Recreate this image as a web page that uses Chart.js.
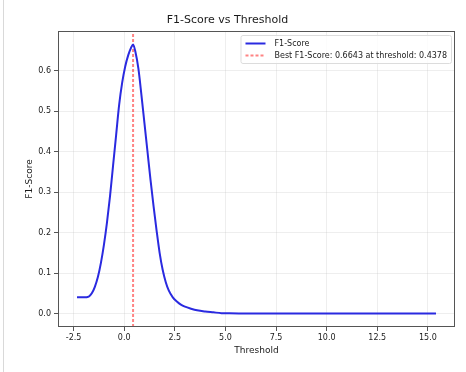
<!DOCTYPE html>
<html><head><meta charset="utf-8">
<script src="https://cdn.jsdelivr.net/npm/chart.js@4"></script>
<style>
html,body{margin:0;padding:0;background:#fff;}
#wrap{position:relative;width:466px;height:372px;overflow:hidden;}
#edge{position:absolute;left:3px;top:0;width:1px;height:372px;background:#d9d9d9;}
canvas{position:absolute;left:0;top:0;}
</style></head><body>
<div id="wrap"><canvas id="c" width="466" height="372"></canvas><div id="edge"></div></div>
<script>
const thresholds = [-2.33, -2.0, -1.75, -1.6, -1.45, -1.3, -1.15, -1.0, -0.85, -0.7, -0.55, -0.4, -0.25, -0.1, 0.05, 0.2, 0.32, 0.4378, 0.55, 0.7, 0.85, 1.0, 1.15, 1.3, 1.45, 1.6, 1.75, 1.9, 2.05, 2.2, 2.4, 2.6, 2.8, 3.0, 3.3, 3.6, 4.0, 4.4, 4.8, 5.2, 6.0, 8.0, 10.0, 12.0, 14.0, 15.4];
const f1Scores = [0.040, 0.040, 0.042, 0.050, 0.066, 0.090, 0.125, 0.170, 0.225, 0.290, 0.365, 0.440, 0.515, 0.570, 0.610, 0.638, 0.654, 0.6643, 0.647, 0.605, 0.540, 0.470, 0.400, 0.330, 0.265, 0.205, 0.150, 0.108, 0.078, 0.057, 0.040, 0.030, 0.022, 0.017, 0.012, 0.008, 0.005, 0.003, 0.001, 0.0005, 0.0, 0.0, 0.0, 0.0, 0.0, 0.0];
const bestThreshold = 0.4378;
const bestF1 = 0.6643;
const xTickValues = [-2.5, 0.0, 2.5, 5.0, 7.5, 10.0, 12.5, 15.0];
const yTickValues = [0.0, 0.1, 0.2, 0.3, 0.4, 0.5, 0.6];
const xLimits = [-3.27, 16.34];
const yLimits = [-0.0332, 0.6975];

const FONT = 'DejaVu Sans';
const TXT = '#1a1a1a';

const framePlugin = {
  id: 'frame',
  afterDatasetsDraw(chart) {
    const {ctx, chartArea: a} = chart;
    ctx.save();
    ctx.strokeStyle = '#555';
    ctx.lineWidth = 1;
    ctx.strokeRect(a.left + 0.5, a.top + 0.5, a.right - a.left - 1, a.bottom - a.top - 1);
    ctx.restore();
  }
};

const legendPlugin = {
  id: 'mplLegend',
  afterDraw(chart) {
    const {ctx, chartArea: a} = chart;
    const items = chart.data.datasets;
    ctx.save();
    ctx.font = '8px "' + FONT + '"';
    const textW = Math.max(...items.map(d => ctx.measureText(d.label).width));
    const padL = 5, handle = 20, gap = 9, padR = 4, rowH = 12;
    const w = padL + handle + gap + textW + padR;
    const h = 28;
    const right = a.right - 4, top = a.top + 4;
    const left = right - w;
    ctx.fillStyle = 'rgba(255,255,255,0.85)';
    ctx.strokeStyle = '#dcdcdc';
    ctx.lineWidth = 1;
    ctx.beginPath();
    ctx.roundRect(left + 0.5, top + 0.5, w, h, 2);
    ctx.fill();
    ctx.stroke();
    items.forEach((d, i) => {
      const y = top + 8.5 + i * rowH;
      ctx.beginPath();
      ctx.strokeStyle = d.borderColor;
      ctx.lineWidth = d.borderWidth;
      ctx.setLineDash(d.borderDash || []);
      ctx.moveTo(left + padL, y);
      ctx.lineTo(left + padL + handle, y);
      ctx.stroke();
      ctx.setLineDash([]);
      ctx.fillStyle = TXT;
      ctx.textBaseline = 'middle';
      ctx.textAlign = 'left';
      ctx.fillText(d.label, left + padL + handle + gap, y);
    });
    ctx.restore();
  }
};

new Chart(document.getElementById('c'), {
  type: 'line',
  data: {
    datasets: [
      {
        label: 'F1-Score',
        data: thresholds.map((t, i) => ({x: t, y: f1Scores[i]})),
        borderColor: '#2a2ae0',
        borderWidth: 2,
        pointRadius: 0,
        cubicInterpolationMode: 'monotone',
        fill: false
      },
      {
        label: 'Best F1-Score: ' + bestF1.toFixed(4) + ' at threshold: ' + bestThreshold.toFixed(4),
        data: [{x: bestThreshold, y: yLimits[0]}, {x: bestThreshold, y: yLimits[1]}],
        borderColor: 'rgba(255,30,30,0.55)',
        borderWidth: 2,
        borderDash: [3, 2],
        pointRadius: 0,
        fill: false
      }
    ]
  },
  options: {
    responsive: false,
    animation: false,
    devicePixelRatio: 1,
    layout: {padding: {left: 0, right: 11, top: 0, bottom: 0}},
    plugins: {
      legend: {display: false},
      tooltip: {enabled: false},
      title: {
        display: true,
        text: 'F1-Score vs Threshold',
        color: TXT,
        font: {family: FONT, size: 11, weight: 'normal', lineHeight: 1.2},
        padding: {top: 14, bottom: 3.8}
      }
    },
    scales: {
      x: {
        type: 'linear',
        min: xLimits[0],
        max: xLimits[1],
        afterBuildTicks: s => { s.ticks = xTickValues.map(v => ({value: v})); },
        afterFit: s => { s.height = 45; },
        border: {display: false},
        grid: {color: 'rgba(176,176,176,0.22)', lineWidth: 1, tickColor: '#555', tickLength: 4},
        ticks: {font: {family: FONT, size: 8}, color: TXT, padding: 2, maxRotation: 0, autoSkip: false,
                callback: v => Number(v).toFixed(1)},
        title: {display: true, text: 'Threshold', color: TXT,
                font: {family: FONT, size: 9, lineHeight: 1.2}, padding: {top: 0, bottom: 16}}
      },
      y: {
        type: 'linear',
        min: yLimits[0],
        max: yLimits[1],
        afterBuildTicks: s => { s.ticks = yTickValues.map(v => ({value: v})); },
        afterFit: s => { s.width = 58; },
        border: {display: false},
        grid: {color: 'rgba(176,176,176,0.22)', lineWidth: 1, tickColor: '#555', tickLength: 4},
        ticks: {font: {family: FONT, size: 8}, color: TXT, padding: 3, autoSkip: false,
                callback: v => Number(v).toFixed(1)},
        title: {display: true, text: 'F1-Score', color: TXT,
                font: {family: FONT, size: 9, lineHeight: 1.2}, padding: {top: 24, bottom: 0}}
      }
    }
  },
  plugins: [framePlugin, legendPlugin]
});
</script>
</body></html>
